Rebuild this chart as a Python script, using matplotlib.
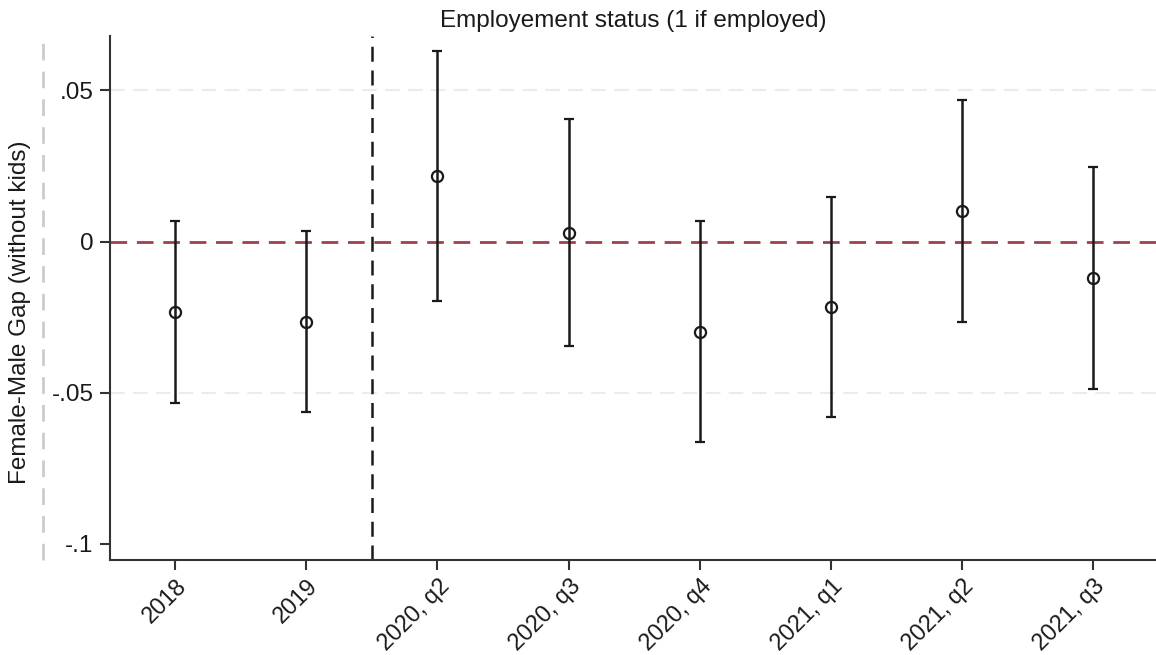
import numpy as np
import matplotlib.pyplot as plt
from matplotlib.lines import Line2D

plt.rcParams['font.family'] = ['Liberation Sans', 'DejaVu Sans']

# point estimates and 95% CI bounds
periods = ["2018", "2019", "2020, q2", "2020, q3", "2020, q4",
           "2021, q1", "2021, q2", "2021, q3"]
coef = [-0.0233, -0.0265, 0.0216, 0.0030, -0.0298, -0.0216, 0.0101, -0.0119]
ci_low = [-0.0533, -0.0562, -0.0196, -0.0345, -0.0662, -0.0581, -0.0267, -0.0486]
ci_high = [0.0069, 0.0036, 0.0629, 0.0407, 0.0069, 0.0146, 0.0468, 0.0246]
yticks = [-0.1, -0.05, 0, 0.05]
ytick_labels = ["-.1", "-.05", "0", ".05"]

coef = np.array(coef)
x = np.arange(len(periods))
yerr = np.vstack([coef - np.array(ci_low), np.array(ci_high) - coef])

fig = plt.figure(figsize=(11.56, 6.55), dpi=100)
ax = fig.add_axes([0.0949, 0.145, 0.9051, 0.800])

# reference lines
for g in [-0.05, 0.05]:
    ax.axhline(g, color="#ebebeb", lw=1.5, dashes=(7, 4), zorder=0)
ax.axhline(0, color="#a0404a", lw=2, dashes=(6, 3.5), zorder=1)
ax.axvline(1.5, color="#1a1a1a", lw=1.8, dashes=(6, 3.5), zorder=1)

ax.errorbar(x, coef, yerr=yerr, fmt="o", color="#1a1a1a", ecolor="#1a1a1a",
            elinewidth=1.8, capsize=3.5, capthick=1.8, markersize=8,
            markerfacecolor="none", markeredgewidth=1.6, zorder=3)

ax.set_xlim(-0.5, 7.48)
ax.set_ylim(-0.1053, 0.068)
ax.set_yticks(yticks)
ax.set_yticklabels(ytick_labels)
ax.set_xticks(x)
ax.set_xticklabels(periods, rotation=45, ha="right", rotation_mode="anchor")

for side in ["top", "right"]:
    ax.spines[side].set_visible(False)
for side in ["left", "bottom"]:
    ax.spines[side].set_color("#333333")
    ax.spines[side].set_linewidth(1.5)
ax.tick_params(axis="both", length=7, width=1.5, color="#333333",
               labelcolor="#1a1a1a")
ax.tick_params(axis="y", labelsize=17.5, pad=4.5)
ax.tick_params(axis="x", labelsize=16.8, pad=3.5)

ax.set_title("Employement status (1 if employed)", fontsize=17.5,
             color="#1a1a1a", pad=6.5)
ax.set_ylabel("Female-Male Gap (without kids)", fontsize=17.5,
              color="#1a1a1a")
ax.yaxis.set_label_coords(-0.075, 0.473)

# light dashed rule at far left
fig.add_artist(Line2D([43 / 1156, 43 / 1156], [95 / 655, 619 / 655],
                      transform=fig.transFigure, color="#cccccc", lw=2,
                      dashes=(6, 4)))

fig.savefig("out.png", dpi=100)
